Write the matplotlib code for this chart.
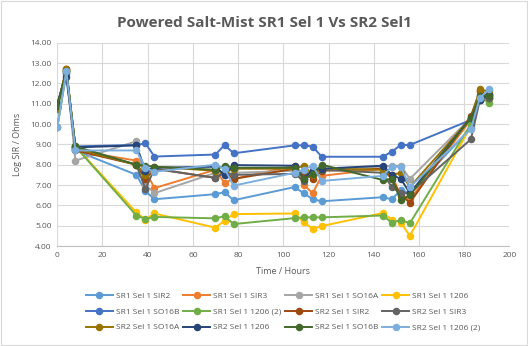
import matplotlib
matplotlib.use("Agg")
import matplotlib.pyplot as plt
from matplotlib.patches import Rectangle

plt.rcParams['font.family'] = ['Open Sans', 'DejaVu Sans']

# time points (hours)
hours = [0, 4, 8, 35, 39, 43, 70, 74, 78, 105, 109, 113, 117, 144, 148, 152, 156, 183, 187, 191]

# log SIR values per series
sr1_sir2 = [9.85, 12.5, 8.7, 7.5, 6.7, 6.3, 6.55, 6.65, 6.25, 6.9, 6.6, 6.3, 6.2, 6.4, 6.3, 6.75, 6.6, 9.8, 11.2, 11.5]
sr1_sir3 = [10.9, 12.7, 8.7, 8.2, 7.7, 6.85, 7.75, 7.1, 7.3, 7.95, 7.0, 6.6, 7.45, 7.8, 7.5, 6.45, 6.3, 10.2, 11.6, 11.3]
sr1_so16a = [10.9, 12.6, 8.2, 9.15, 7.0, 6.6, 7.6, 7.5, 7.6, 7.7, 7.6, 7.7, 7.8, 7.9, 7.95, 7.95, 7.3, 10.3, 11.5, 11.4]
sr1_1206 = [10.8, 12.6, 8.9, 5.65, 5.3, 5.6, 4.9, 5.25, 5.57, 5.6, 5.17, 4.85, 4.98, 5.62, 5.3, 5.15, 4.5, 9.9, 11.4, 11.3]
sr1_so16b = [11.0, 12.5, 8.9, 8.97, 9.05, 8.4, 8.5, 8.97, 8.56, 8.95, 8.95, 8.89, 8.39, 8.39, 8.64, 8.97, 8.97, 10.2, 11.2, 11.5]
sr1_1206_2 = [9.85, 12.6, 8.9, 5.5, 5.33, 5.43, 5.36, 5.47, 5.08, 5.37, 5.41, 5.41, 5.41, 5.5, 5.15, 5.28, 5.12, 10.0, 11.3, 11.05]
sr2_sir2 = [10.8, 12.7, 8.7, 8.0, 7.28, 7.8, 7.35, 7.65, 7.3, 7.8, 7.6, 7.3, 7.7, 7.8, 7.3, 6.5, 6.13, 10.4, 11.6, 11.3]
sr2_sir3 = [10.9, 12.6, 8.8, 8.0, 6.8, 7.8, 7.35, 7.6, 7.5, 7.55, 7.2, 7.6, 7.75, 7.6, 6.89, 6.6, 6.6, 9.25, 11.2, 11.3]
sr2_so16a = [10.75, 12.7, 8.8, 8.0, 7.5, 7.9, 7.7, 7.6, 7.8, 7.8, 7.95, 7.5, 7.8, 7.75, 7.5, 7.6, 6.9, 10.3, 11.7, 11.6]
sr2_1206 = [11.0, 12.3, 8.85, 8.95, 7.7, 7.85, 7.9, 7.5, 7.98, 7.95, 7.31, 7.75, 7.8, 7.95, 7.5, 7.3, 6.6, 10.3, 11.2, 11.45]
sr2_so16b = [10.9, 12.6, 8.9, 8.0, 7.95, 7.9, 7.75, 7.95, 7.85, 7.85, 7.3, 7.55, 8.0, 7.25, 7.3, 6.26, 6.5, 10.3, 11.4, 11.4]
sr2_1206_2 = [9.85, 12.6, 8.7, 8.7, 7.85, 7.65, 8.0, 7.8, 6.97, 7.6, 7.75, 7.95, 7.2, 7.45, 7.9, 7.9, 6.9, 9.75, 11.3, 11.7]

labels = ["SR1 Sel 1 SIR2", "SR1 Sel 1 SIR3", "SR1 Sel 1 SO16A", "SR1 Sel 1 1206",
          "SR1 Sel 1 SO16B", "SR1 Sel 1 1206 (2)", "SR2 Sel 1 SIR2", "SR2 Sel 1 SIR3",
          "SR2 Sel 1 SO16A", "SR2 Sel 1 1206", "SR2 Sel 1 SO16B", "SR2 Sel 1 1206 (2)"]
series = [sr1_sir2, sr1_sir3, sr1_so16a, sr1_1206, sr1_so16b, sr1_1206_2,
          sr2_sir2, sr2_sir3, sr2_so16a, sr2_1206, sr2_so16b, sr2_1206_2]
colors = ["#5B9BD5", "#ED7D31", "#A5A5A5", "#FFC000", "#4472C4", "#70AD47",
          "#9E480E", "#636363", "#997300", "#264478", "#43682B", "#7CAFDD"]

txt = "#595959"
fig = plt.figure(figsize=(5.28, 3.46), dpi=100)
ax = fig.add_axes([0.1085, 0.289, 0.8561, 0.5876])

for y, lab, c in zip(series, labels, colors):
    ax.plot(hours, y, color=c, marker="o", ms=4.4, lw=1.4, label=lab)

ax.set_xlim(0, 200)
ax.set_ylim(4, 14)
ax.set_xticks(range(0, 201, 20))
ax.set_yticks(range(4, 15))
ax.set_yticklabels(["%.2f" % v for v in range(4, 15)])
ax.grid(True, color="#D9D9D9", lw=0.8, zorder=0)
ax.set_axisbelow(True)
for s in ["top", "right", "left"]:
    ax.spines[s].set_visible(False)
ax.spines["bottom"].set_color("#BFBFBF")
ax.tick_params(length=0, labelsize=6, colors=txt, pad=4)

ax.set_xlabel("Time / Hours", fontsize=6.5, color=txt, labelpad=6)
ax.set_ylabel("Log SIR / Ohms", fontsize=6.5, color=txt, labelpad=6)
fig.suptitle("Powered Salt-Mist SR1 Sel 1 Vs SR2 Sel1", fontsize=11, fontweight="bold",
             color=txt, y=0.955)

# legend reads row by row, matplotlib fills column by column
handles, labs = ax.get_legend_handles_labels()
order = [r * 4 + c for c in range(4) for r in range(3)]
ax.legend([handles[i] for i in order], [labs[i] for i in order],
          loc="upper center", bbox_to_anchor=(0.5, -0.19), ncol=4, fontsize=6,
          frameon=False, handlelength=3.2, columnspacing=0.45, handletextpad=0.4,
          labelspacing=0.95, labelcolor=txt)

fig.patches.append(Rectangle((0.002, 0.003), 0.996, 0.994, transform=fig.transFigure,
                             fill=False, edgecolor="#D9D9D9", lw=0.8))

fig.savefig("out.png", dpi=100)
